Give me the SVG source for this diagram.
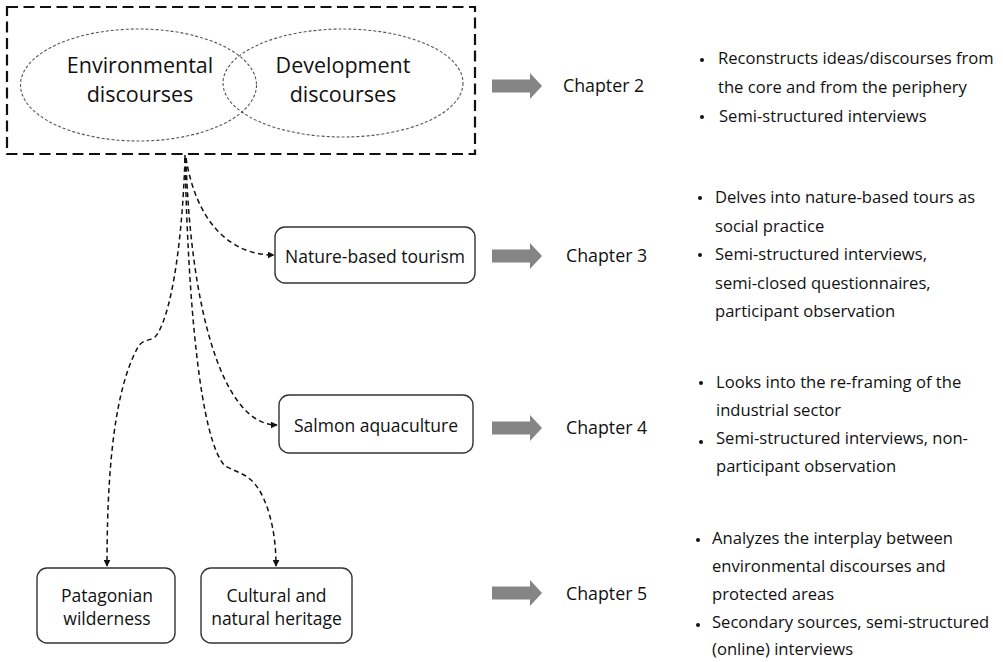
<svg xmlns="http://www.w3.org/2000/svg" width="1003" height="662" viewBox="0 0 1003 662">
<style>
  text { font-family: "Open Sans", "Noto Sans", "Liberation Sans", sans-serif; fill: #111; }
  .big { font-size: 21.5px; }
  .node { font-size: 17.5px; }
  .chap { font-size: 17.8px; }
  .body { font-size: 16.6px; }
  .box { fill: #fff; stroke: #333; stroke-width: 1.4; }
  .conn { fill: none; stroke: #111; stroke-width: 1.5; stroke-dasharray: 5 3.5; }
  .ell { fill: none; stroke: #555; stroke-width: 1.1; stroke-dasharray: 3 2; }
  .blk { fill: #858585; }
  .dot { fill: #111; }
</style>
<defs>
  <marker id="ah" viewBox="0 0 10 10" refX="9" refY="5" markerWidth="7" markerHeight="7" markerUnits="userSpaceOnUse" orient="auto">
    <path d="M0,0 L10,5 L0,10 z" fill="#111"/>
  </marker>
  <path id="bigarrow" d="M0,-6.5 L38,-6.5 L38,-13 L50,0 L38,13 L38,6.5 L0,6.5 z"/>
</defs>
<rect width="1003" height="662" fill="#fff"/>

<g id="discourses">
  <rect x="7" y="7" width="468" height="147" fill="none" stroke="#111" stroke-width="2.2" stroke-dasharray="11 5.5"/>
  <ellipse class="ell" cx="138.5" cy="85" rx="118" ry="56"/>
  <ellipse class="ell" cx="343" cy="83" rx="120" ry="54"/>
  <text class="big" x="140" y="72.7" text-anchor="middle">Environmental</text>
  <text class="big" x="140" y="101.7" text-anchor="middle">discourses</text>
  <text class="big" x="343" y="72.7" text-anchor="middle">Development</text>
  <text class="big" x="343" y="101.7" text-anchor="middle">discourses</text>
</g>

<g id="connectors">
  <path class="conn" d="M185,155 L185,160"/>
  <path class="conn" d="M186,158 C 195,215 225,255 274,255" marker-end="url(#ah)"/>
  <path class="conn" d="M186,158 C 190,300 220,425 277,425" marker-end="url(#ah)"/>
  <path class="conn" d="M185,158 C 188,300 200,440 225,466 C 240,474 252,474 263,497 C 272,517 276,540 276,566" marker-end="url(#ah)"/>
  <path class="conn" d="M185,158 C 182,250 170,320 155,337 C 150,341 143,339 138,347 C 120,380 107,440 107,566" marker-end="url(#ah)"/>
</g>

<g id="nature-tourism">
  <rect class="box" x="275" y="227" width="200" height="56" rx="10"/>
  <text class="node" x="375" y="263" text-anchor="middle">Nature-based tourism</text>
</g>
<g id="salmon">
  <rect class="box" x="279" y="395" width="194" height="58" rx="10"/>
  <text class="node" x="376" y="432" text-anchor="middle">Salmon aquaculture</text>
</g>
<g id="patagonian">
  <rect class="box" x="37" y="568" width="138" height="75" rx="10"/>
  <text class="node" x="107" y="602" text-anchor="middle">Patagonian</text>
  <text class="node" x="107" y="625" text-anchor="middle">wilderness</text>
</g>
<g id="heritage">
  <rect class="box" x="201" y="568" width="151" height="75" rx="10"/>
  <text class="node" x="276.5" y="602" text-anchor="middle">Cultural and</text>
  <text class="node" x="276.5" y="625" text-anchor="middle">natural heritage</text>
</g>

<g id="chapter2">
  <use href="#bigarrow" class="blk" transform="translate(492,86)"/>
  <text class="chap" x="563" y="92">Chapter 2</text>
  <circle class="dot" cx="702" cy="60" r="2"/>
  <text class="body" x="718" y="64">Reconstructs ideas/discourses from</text>
  <text class="body" x="718" y="93">the core and from the periphery</text>
  <circle class="dot" cx="702" cy="117" r="2"/>
  <text class="body" x="719" y="121.5">Semi-structured interviews</text>
</g>

<g id="chapter3">
  <use href="#bigarrow" class="blk" transform="translate(492,256)"/>
  <text class="chap" x="566" y="261.5">Chapter 3</text>
  <circle class="dot" cx="700" cy="198" r="2"/>
  <text class="body" x="715" y="203">Delves into nature-based tours as</text>
  <text class="body" x="715" y="231.5">social practice</text>
  <circle class="dot" cx="700" cy="255" r="2"/>
  <text class="body" x="715" y="260">Semi-structured interviews,</text>
  <text class="body" x="715" y="288.5">semi-closed questionnaires,</text>
  <text class="body" x="715" y="317">participant observation</text>
</g>

<g id="chapter4">
  <use href="#bigarrow" class="blk" transform="translate(492,428)"/>
  <text class="chap" x="566" y="434">Chapter 4</text>
  <circle class="dot" cx="701" cy="383" r="2"/>
  <text class="body" x="716" y="387.5">Looks into the re-framing of the</text>
  <text class="body" x="716" y="415.5">industrial sector</text>
  <circle class="dot" cx="701" cy="442" r="2"/>
  <text class="body" x="716" y="444">Semi-structured interviews, non-</text>
  <text class="body" x="716" y="472">participant observation</text>
</g>

<g id="chapter5">
  <use href="#bigarrow" class="blk" transform="translate(492,593)"/>
  <text class="chap" x="566" y="600">Chapter 5</text>
  <circle class="dot" cx="698" cy="540" r="2"/>
  <text class="body" x="712" y="543.5">Analyzes the interplay between</text>
  <text class="body" x="712" y="571.5">environmental discourses and</text>
  <text class="body" x="712" y="599.5">protected areas</text>
  <circle class="dot" cx="698" cy="625" r="2"/>
  <text class="body" x="712" y="627.5">Secondary sources, semi-structured</text>
  <text class="body" x="712" y="655">(online) interviews</text>
</g>
</svg>
